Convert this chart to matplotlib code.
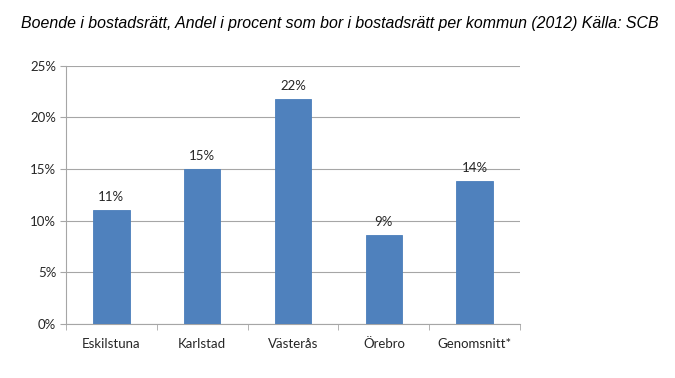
import numpy as np
import matplotlib
matplotlib.use("Agg")
import matplotlib.pyplot as plt
from matplotlib.ticker import FuncFormatter, FixedLocator

# andel som bor i bostadsrätt per kommun, 2012 (SCB)
kommuner = ["Eskilstuna", "Karlstad", "Västerås", "Örebro", "Genomsnitt*"]
andel = [11.0, 15.0, 21.8, 8.6, 13.8]
etiketter = ["11%", "15%", "22%", "9%", "14%"]

fig = plt.figure(figsize=(6.75, 3.78), dpi=100)
ax = fig.add_axes([0.0978, 0.1429, 0.6726, 0.6833])

x = np.arange(len(kommuner))
bars = ax.bar(x, andel, width=0.40, color="#4F81BD", edgecolor="#4A7EBB", lw=0.6, zorder=3)

for b, lab in zip(bars, etiketter):
    ax.annotate(lab, (b.get_x() + b.get_width() / 2, b.get_height()),
                xytext=(0, 5), textcoords="offset points", ha="center", va="bottom",
                fontsize=9.5, family="Lato", color="#262626")

ax.set_xlim(-0.5, len(kommuner) - 0.5)
ax.set_ylim(0, 25)
ax.set_yticks(np.arange(0, 26, 5))
ax.yaxis.set_major_formatter(FuncFormatter(lambda v, p: f"{v:.0f}%"))
ax.set_xticks(x)
ax.set_xticklabels(kommuner)
ax.xaxis.set_minor_locator(FixedLocator(np.arange(-0.5, len(kommuner), 1.0)))

ax.grid(axis="y", color="#A6A6A6", lw=0.8, zorder=0)
for s in ["top", "right"]:
    ax.spines[s].set_visible(False)
for s in ["left", "bottom"]:
    ax.spines[s].set_color("#A6A6A6")
    ax.spines[s].set_linewidth(0.8)

ax.tick_params(axis="y", length=4, color="#A6A6A6", pad=3, labelsize=9.5, labelcolor="#262626")
ax.tick_params(axis="x", which="major", length=0, pad=10, labelsize=9.5, labelcolor="#262626")
ax.tick_params(axis="x", which="minor", length=4, color="#A6A6A6")
for t in ax.get_xticklabels() + ax.get_yticklabels():
    t.set_family("Lato")

fig.text(0.031, 0.938, "Boende i bostadsrätt, Andel i procent som bor i bostadsrätt per kommun (2012) Källa: SCB",
         fontsize=11.4, style="italic", family="Liberation Sans", va="center", ha="left", color="black")

fig.savefig("out.png", dpi=100)
